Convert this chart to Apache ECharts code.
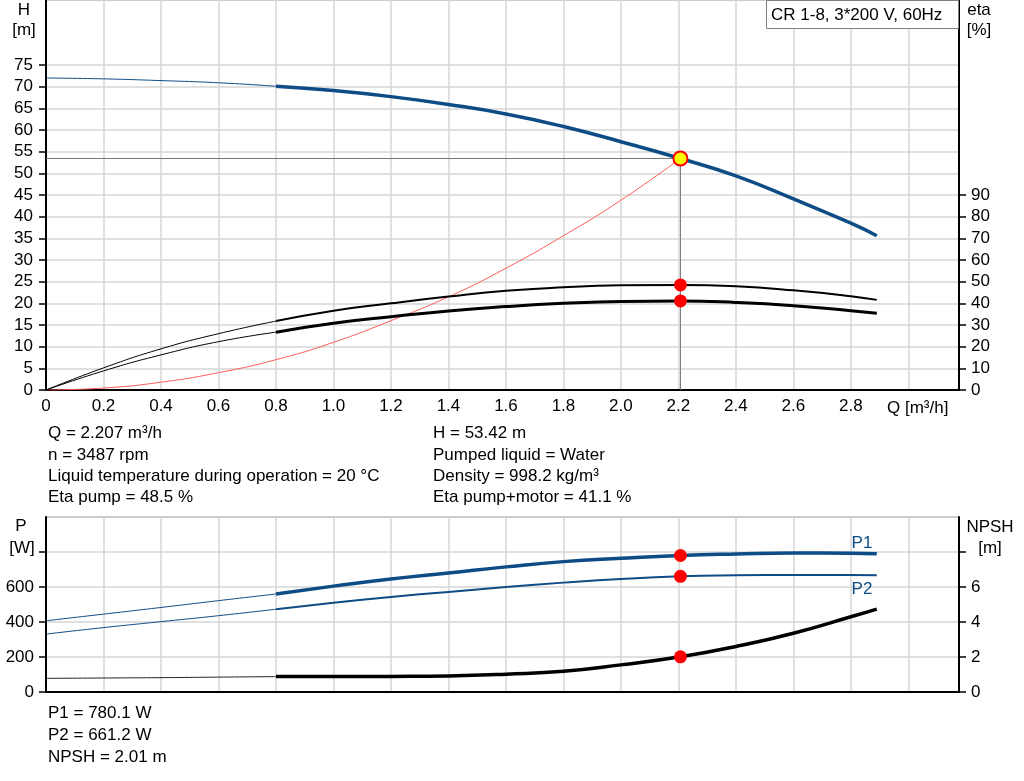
<!DOCTYPE html>
<html>
<head>
<meta charset="utf-8">
<script src="https://cdn.jsdelivr.net/npm/echarts@6/dist/echarts.min.js"></script>
<style>
html,body{margin:0;padding:0;background:#fff;}
#c{width:1024px;height:781px;}
</style>
</head>
<body>
<div id="c"></div>
<script>
// ---------- data ----------
const qThin = [0, 0.2, 0.4, 0.6, 0.8];
const qThick = [0.8, 1.0, 1.2, 1.4, 1.6, 1.8, 2.0, 2.207, 2.4, 2.6, 2.8, 2.89];
const qSys = [0, 0.2, 0.4, 0.6, 0.8, 1.0, 1.2, 1.4, 1.6, 1.8, 2.0, 2.207];

const hThin = [72, 71.8, 71.4, 70.9, 70.1];
const hThick = [70.1, 69.1, 67.7, 65.9, 63.7, 60.8, 57.3, 53.42, 49.4, 44.1, 38.5, 35.6];

const etaPumpThin = [0, 10.2, 19, 26, 31.8];
const etaPumpThick = [31.8, 36.6, 40, 43.1, 45.8, 47.4, 48.3, 48.5, 47.9, 46, 43.3, 41.6];

const etaTotThin = [0, 8.8, 16.2, 22.3, 26.7];
const etaTotThick = [26.7, 30.8, 33.8, 36.5, 38.5, 40, 40.9, 41.1, 40.4, 38.9, 36.6, 35.4];

const hSystem = [0, 0.45, 1.8, 4, 7, 11, 16, 21.5, 28.1, 35.6, 43.8, 53.42];

const p1Thin = [407, 445, 483, 522, 560];
const p1Thick = [560, 605, 646, 680, 715, 745, 764, 780.1, 789, 795, 793, 790];

const p2Thin = [331, 368, 402, 436, 473];
const p2Thick = [473, 510, 543, 572, 600, 625, 646, 661.2, 667, 669, 668, 667];

const npshThin = [0.78, 0.8, 0.82, 0.85, 0.88];
const npshThick = [0.88, 0.88, 0.89, 0.92, 1.02, 1.18, 1.55, 2.01, 2.6, 3.36, 4.3, 4.74];

const dutyQ = 2.207, dutyH = 53.42, dutyEtaPump = 48.5, dutyEtaTot = 41.1;
const dutyP1 = 780.1, dutyP2 = 661.2, dutyNpsh = 2.01;

const qTickLabels = [0, 0.2, 0.4, 0.6, 0.8, 1.0, 1.2, 1.4, 1.6, 1.8, 2.0, 2.2, 2.4, 2.6, 2.8];
const hTickLabels = [0,5,10,15,20,25,30,35,40,45,50,55,60,65,70,75];
const etaTickLabels = [0,10,20,30,40,50,60,70,80,90];
const pTickLabels = [0,200,400,600];
const pTicks = [0,200,400,600,800];
const npshTickLabels = [0,2,4,6];
const npshTicks = [0,2,4,6,8];

const infoLeft = ['Q = 2.207 m³/h', 'n = 3487 rpm', 'Liquid temperature during operation = 20 °C', 'Eta pump = 48.5 %'];
const infoRight = ['H = 53.42 m', 'Pumped liquid = Water', 'Density = 998.2 kg/m³', 'Eta pump+motor = 41.1 %'];
const infoBottom = ['P1 = 780.1 W', 'P2 = 661.2 W', 'NPSH = 2.01 m'];
const title = 'CR 1-8, 3*200 V, 60Hz';

// ---------- helpers ----------
const zip = (xs, ys) => xs.map((x, i) => [x, ys[i]]);
const FONT = '"Liberation Sans", Arial, sans-serif';
const BLUE = '#0e4c86';
const FS = 17;

function line(name, xi, yi, data, color, width, opts) {
  return Object.assign({
    name, type: 'line', xAxisIndex: xi, yAxisIndex: yi, data,
    smooth: true, showSymbol: false, symbol: 'none',
    lineStyle: { color, width }, z: 3, silent: true
  }, opts || {});
}
function pt(xi, yi, data, size, color, border, bw) {
  return {
    type: 'scatter', xAxisIndex: xi, yAxisIndex: yi, data,
    symbolSize: size, itemStyle: { color, borderColor: border || color, borderWidth: bw || 0, opacity: 1 },
    z: 10, silent: true
  };
}

const gridLine = { show: true, lineStyle: { color: '#d6d6d6', width: 1.5 } };
const blackAxis = { show: true, onZero: false, lineStyle: { color: '#000', width: 2 } };
const lbl = { color: '#000', fontSize: FS, fontFamily: FONT };

function xAx(gi, labels) {
  return {
    type: 'value', gridIndex: gi, min: 0, max: 3.176, interval: 0.2,
    axisLine: blackAxis, axisTick: { show: false },
    axisLabel: labels ? Object.assign({}, lbl, {
      margin: 8, customValues: qTickLabels,
      formatter: v => (v === 0 ? '0' : v.toFixed(1))
    }) : { show: false },
    splitLine: gridLine
  };
}
function yAx(gi, pos, max, interval, labels, ticks, split, margin) {
  return {
    type: 'value', gridIndex: gi, position: pos, min: 0, max, interval,
    axisLine: blackAxis,
    axisTick: { show: true, length: 7, inside: false, customValues: ticks, lineStyle: { color: '#000', width: 1.5 } },
    axisLabel: Object.assign({}, lbl, { margin, customValues: labels }),
    splitLine: split ? gridLine : { show: false }
  };
}

function txt(text, x, y, align, color) {
  return {
    type: 'text', x, y, silent: true, z: 20,
    style: { text, font: FS + 'px ' + FONT, fill: color || '#000', textAlign: align || 'left', textVerticalAlign: 'middle' }
  };
}

const graphics = [
  txt('H', 24, 10, 'center'), txt('[m]', 24, 30, 'center'),
  txt('eta', 979, 10, 'center'), txt('[%]', 979, 30, 'center'),
  txt('Q [m³/h]', 887, 408, 'left'),
  { type: 'rect', shape: { x: 766.5, y: 0.5, width: 192, height: 28 }, style: { fill: '#fff', stroke: '#808080', lineWidth: 1 }, z: 19, silent: true },
  txt(title, 771, 15, 'left'),
  txt('P', 21, 526, 'center'), txt('[W]', 22, 548, 'center'),
  txt('NPSH', 990, 527, 'center'), txt('[m]', 990, 548, 'center'),
  txt('P1', 862, 543, 'center', BLUE), txt('P2', 862, 589, 'center', BLUE)
];
const infoY = [433, 455, 476, 497];
infoLeft.forEach((t, i) => graphics.push(txt(t, 48, infoY[i])));
infoRight.forEach((t, i) => graphics.push(txt(t, 433, infoY[i])));
const botY = [713, 735, 757];
infoBottom.forEach((t, i) => graphics.push(txt(t, 48, botY[i])));

const option = {
  animation: false,
  backgroundColor: '#fff',
  textStyle: { fontFamily: FONT },
  grid: [
    { left: 46, right: 65, top: 0, height: 390, show: true, borderColor: '#999', borderWidth: 1, backgroundColor: 'transparent' },
    { left: 46, right: 65, top: 517, height: 175, show: true, borderColor: '#999', borderWidth: 1, backgroundColor: 'transparent' }
  ],
  xAxis: [xAx(0, true), xAx(1, false)],
  yAxis: [
    yAx(0, 'left', 90, 5, hTickLabels, hTickLabels, true, 13),
    yAx(0, 'right', 180, 10, etaTickLabels, etaTickLabels, false, 12),
    yAx(1, 'left', 1000, 200, pTickLabels, pTicks, true, 12),
    yAx(1, 'right', 10, 2, npshTickLabels, npshTicks, false, 12)
  ],
  graphic: graphics,
  series: [
    // crosshair
    line('hLine', 0, 0, [[0, dutyH], [dutyQ, dutyH]], '#777', 1, { smooth: false, z: 2 }),
    line('vLine', 0, 0, [[dutyQ, dutyH], [dutyQ, 0]], '#777', 1, { smooth: false, z: 2 }),
    // system curve
    line('system', 0, 0, zip(qSys, hSystem), '#ff5a5a', 1),
    // H
    line('H thin', 0, 0, zip(qThin, hThin), BLUE, 1),
    line('H', 0, 0, zip(qThick, hThick), BLUE, 3.5),
    // eta
    line('eta pump thin', 0, 1, zip(qThin, etaPumpThin), '#000', 1),
    line('eta pump', 0, 1, zip(qThick, etaPumpThick), '#000', 2),
    line('eta tot thin', 0, 1, zip(qThin, etaTotThin), '#000', 1),
    line('eta tot', 0, 1, zip(qThick, etaTotThick), '#000', 3),
    // duty points top
    pt(0, 1, [[dutyQ, dutyEtaPump], [dutyQ, dutyEtaTot]], 13, '#ff0000'),
    pt(0, 0, [[dutyQ, dutyH]], 14, '#ffff00', '#ff0000', 2),
    // bottom
    line('P1 thin', 1, 2, zip(qThin, p1Thin), BLUE, 1),
    line('P1', 1, 2, zip(qThick, p1Thick), BLUE, 3.5),
    line('P2 thin', 1, 2, zip(qThin, p2Thin), BLUE, 1),
    line('P2', 1, 2, zip(qThick, p2Thick), BLUE, 2),
    line('NPSH thin', 1, 3, zip(qThin, npshThin), '#222', 1),
    line('NPSH', 1, 3, zip(qThick, npshThick), '#000', 3.5),
    pt(1, 2, [[dutyQ, dutyP1], [dutyQ, dutyP2]], 13, '#ff0000'),
    pt(1, 3, [[dutyQ, dutyNpsh]], 13, '#ff0000')
  ]
};

const chart = echarts.init(document.getElementById('c'), null, { renderer: 'canvas' });
chart.setOption(option);
</script>
</body>
</html>
